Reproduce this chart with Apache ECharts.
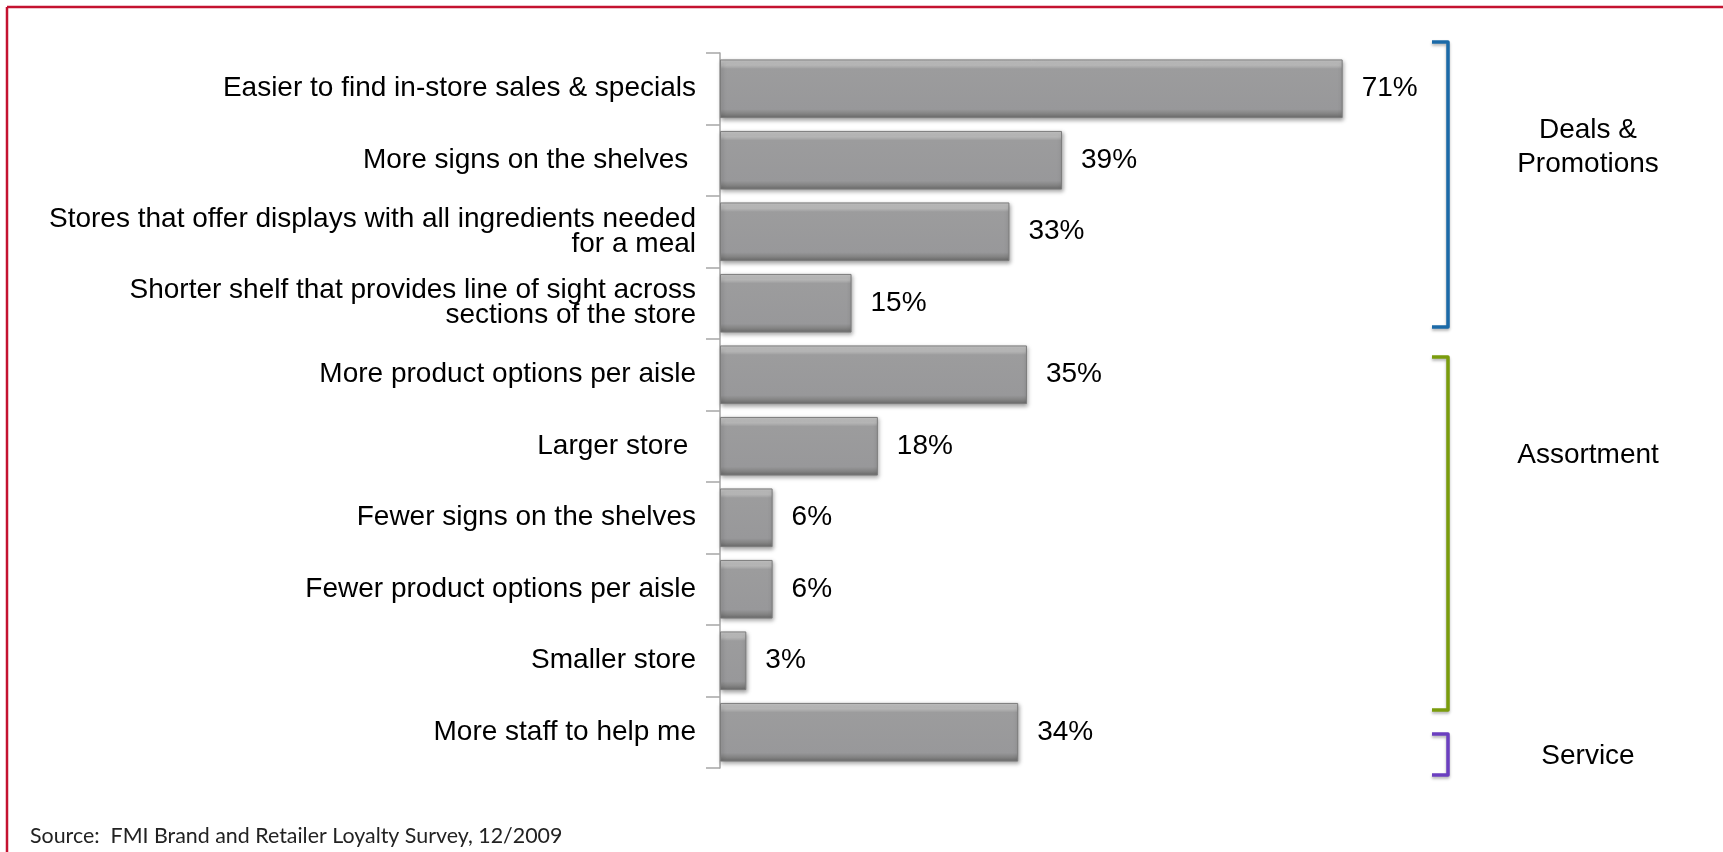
<!DOCTYPE html>
<html>
<head>
<meta charset="utf-8">
<script src="https://cdn.jsdelivr.net/npm/echarts@6/dist/echarts.min.js"></script>
<style>
  html, body { margin: 0; padding: 0; background: #fff; }
  #chart { width: 1723px; height: 852px; }
</style>
</head>
<body>
<div id="chart"></div>
<script>
const categories = [
  "Easier to find in-store sales & specials",
  "More signs on the shelves ",
  "Stores that offer displays with all ingredients needed\nfor a meal",
  "Shorter shelf that provides line of sight across\nsections of the store",
  "More product options per aisle",
  "Larger store ",
  "Fewer signs on the shelves",
  "Fewer product options per aisle",
  "Smaller store",
  "More staff to help me"
];
const values = [71, 39, 33, 15, 35, 18, 6, 6, 3, 34];
const groupNames = ["Deals &\nPromotions", "Assortment", "Service"];
const groupColors = ["#1b6aa8", "#7a9c0c", "#6b3fc0"];
const sourceText = "Source:  FMI Brand and Retailer Loyalty Survey, 12/2009";

const chart = echarts.init(document.getElementById('chart'), null, { renderer: 'canvas' });

const font = "'Liberation Sans', Arial, sans-serif";

function bracket(x, y1, y2, color) {
  return {
    type: 'polyline',
    shape: { points: [[x - 16, y1], [x, y1], [x, y2], [x - 16, y2]] },
    style: {
      stroke: color, lineWidth: 3.5, fill: null, lineJoin: 'round',
      shadowColor: 'rgba(0,0,0,0.3)', shadowBlur: 3, shadowOffsetY: 2
    },
    z: 10
  };
}

function groupText(text, cy) {
  return {
    type: 'text',
    x: 1588, y: cy,
    style: {
      text: text, font: "28px " + font, fill: '#000',
      align: 'center', verticalAlign: 'middle', lineHeight: 34
    },
    z: 10
  };
}

const option = {
  backgroundColor: '#ffffff',
  animation: false,
  grid: { left: 720, top: 53, bottom: 84, right: 126, containLabel: false },
  xAxis: {
    type: 'value', min: 0, max: 100, show: false
  },
  yAxis: {
    type: 'category',
    inverse: true,
    data: categories,
    axisLine: { show: true, lineStyle: { color: '#a6a6a6', width: 1.5 } },
    axisTick: { show: true, length: 14, lineStyle: { color: '#a6a6a6', width: 1.5 } },
    axisLabel: {
      margin: 24, fontSize: 28, fontFamily: font, color: '#000',
      lineHeight: 25, align: 'right'
    },
    splitLine: { show: false }
  },
  series: [{
    type: 'bar',
    data: values,
    barCategoryGap: '18%',
    itemStyle: {
      color: {
        type: 'linear', x: 0, y: 0, x2: 0, y2: 1,
        colorStops: [
          { offset: 0, color: '#c8c8c8' },
          { offset: 0.1, color: '#b9b9b9' },
          { offset: 0.16, color: '#9c9c9d' },
          { offset: 0.85, color: '#98989a' },
          { offset: 0.92, color: '#858585' },
          { offset: 1, color: '#6a6a6a' }
        ]
      },
      borderColor: '#7c7c7c',
      borderWidth: 1,
      shadowColor: 'rgba(0,0,0,0.35)',
      shadowBlur: 4,
      shadowOffsetX: 1,
      shadowOffsetY: 2
    },
    label: {
      show: true, position: 'right', distance: 19,
      formatter: '{c}%', fontSize: 28, fontFamily: font, color: '#000'
    }
  }],
  graphic: [
    { type: 'line', shape: { x1: 7, y1: 7, x2: 1723, y2: 7 }, style: { stroke: '#c41230', lineWidth: 2.5 } },
    { type: 'line', shape: { x1: 7, y1: 7, x2: 7, y2: 852 }, style: { stroke: '#c41230', lineWidth: 2.5 } },
    bracket(1448, 42, 327, groupColors[0]),
    bracket(1448, 357, 710, groupColors[1]),
    bracket(1448, 734, 775, groupColors[2]),
    groupText(groupNames[0], 147),
    groupText(groupNames[1], 455),
    groupText(groupNames[2], 756),
    {
      type: 'text', x: 30, y: 836,
      style: { text: sourceText, font: "21.4px Lato, 'Open Sans', sans-serif", fill: '#222', verticalAlign: 'middle' }
    }
  ]
};

chart.setOption(option);
</script>
</body>
</html>
